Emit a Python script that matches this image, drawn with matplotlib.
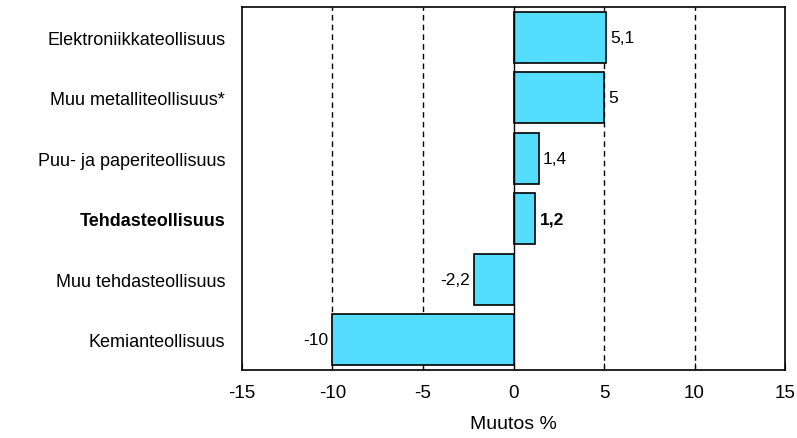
import matplotlib.pyplot as plt

plt.rcParams['font.family'] = ['Liberation Sans', 'DejaVu Sans']

# data, bottom to top as drawn
categories = ["Kemianteollisuus", "Muu tehdasteollisuus", "Tehdasteollisuus",
              "Puu- ja paperiteollisuus", "Muu metalliteollisuus*", "Elektroniikkateollisuus"]
values = [-10, -2.2, 1.2, 1.4, 5, 5.1]
value_labels = ["-10", "-2,2", "1,2", "1,4", "5", "5,1"]
bold_category = "Tehdasteollisuus"
xticks = [-15, -10, -5, 0, 5, 10, 15]

fig = plt.figure(figsize=(7.97, 4.39), dpi=100)
ax = fig.add_axes([0.3036, 0.1549, 0.6814, 0.8269])

# dashed gridlines
for g in [-10, -5, 5, 10]:
    ax.axvline(g, color="black", linestyle=(0, (4, 3)), linewidth=1, zorder=1)

ypos = list(range(len(categories)))
ax.barh(ypos, values, height=0.85, color="#55DDFF", edgecolor="black",
        linewidth=1.2, zorder=2)
ax.axvline(0, color="black", linewidth=1, zorder=3)

for y, v, lab, cat in zip(ypos, values, value_labels, categories):
    weight = "bold" if cat == bold_category else "normal"
    if v >= 0:
        ax.annotate(lab, (v, y), xytext=(3, 0), textcoords="offset points",
                    ha="left", va="center", fontsize=12.5, fontweight=weight)
    else:
        ax.annotate(lab, (v, y), xytext=(-3, 0), textcoords="offset points",
                    ha="right", va="center", fontsize=12.5, fontweight=weight)

ax.set_xlim(-15, 15)
ax.set_ylim(-0.5, len(categories) - 0.5)
ax.set_xticks(xticks)
ax.set_xticklabels([str(t) for t in xticks])
ax.set_yticks(ypos)
ax.set_yticklabels(categories)
for lab in ax.get_yticklabels():
    if lab.get_text() == bold_category:
        lab.set_fontweight("bold")

ax.tick_params(axis="x", direction="in", length=5, pad=10, labelsize=13.5)
ax.tick_params(axis="y", length=0, pad=12, labelsize=13)
for s in ax.spines.values():
    s.set_linewidth(1.2)

ax.set_xlabel("Muutos %", fontsize=14, labelpad=10)

fig.savefig("out.png", dpi=100)
